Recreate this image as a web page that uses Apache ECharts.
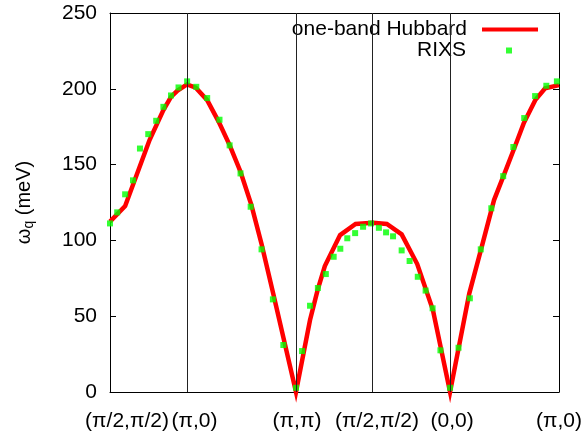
<!DOCTYPE html>
<html>
<head>
<meta charset="utf-8">
<script src="https://cdn.jsdelivr.net/npm/echarts@6/dist/echarts.min.js"></script>
<style>
  html, body { margin: 0; padding: 0; background: #fff; }
  #main { width: 585px; height: 440px; }
</style>
</head>
<body>
<div id="main"></div>
<script>
// path coordinate along the BZ cut, in units of pi
var qTicks = [0, 0.7071, 1.7071, 2.4142, 3.1213, 4.1213];
var qLabels = ['(π/2,π/2)', '(π,0)', '(π,π)', '(π/2,π/2)', '(0,0)', '(π,0)'];
var yTicks = [0, 50, 100, 150, 200, 250];

// one-band Hubbard dispersion (meV)
var hubbardQ = [0, 0.139, 0.363, 0.490, 0.560, 0.620, 0.7071, 0.787, 0.892, 0.998,
  1.098, 1.198, 1.298, 1.391, 1.498, 1.7071, 1.836, 1.906, 1.972, 2.112,
  2.254, 2.4142, 2.541, 2.677, 2.820, 2.964, 3.1213, 3.298, 3.404, 3.525,
  3.615, 3.722, 3.797, 3.903, 3.994, 4.1213];
var hubbardE = [112.4, 122.7, 166.2, 186.0, 194.7, 198.8, 202.9, 200.7, 192.5, 178.2,
  162.9, 145.3, 123.3, 97.6, 65.0, 0, 47.5, 67.3, 83.1, 103.5,
  110.8, 111.6, 110.8, 104.0, 84.4, 54.1, 0, 65.1, 93.6, 126.6,
  143.1, 162.9, 177.2, 192.5, 200.3, 202.4];

// RIXS data (meV)
var rixsQ = [0, 0.066, 0.139, 0.211, 0.275, 0.351, 0.424, 0.490, 0.560, 0.629,
  0.708, 0.792, 0.892, 1.005, 1.098, 1.198, 1.291, 1.391, 1.495, 1.591,
  1.7071, 1.763, 1.836, 1.908, 1.981, 2.053, 2.114, 2.178, 2.250, 2.323,
  2.396, 2.468, 2.534, 2.598, 2.677, 2.750, 2.825, 2.897, 2.961, 3.033,
  3.1213, 3.199, 3.303, 3.403, 3.500, 3.609, 3.702, 3.802, 3.902, 4.005, 4.102];
var rixsE = [111.2, 118.5, 130.4, 139.6, 160.6, 170.1, 178.9, 188.1, 195.6, 200.9,
  204.9, 201.3, 193.9, 179.6, 162.7, 144.2, 122.2, 94.1, 61.1, 31.0,
  2.8, 27.0, 56.9, 68.6, 77.8, 89.2, 94.5, 101.4, 104.8, 109.0,
  111.2, 108.3, 105.3, 102.7, 93.4, 86.4, 76.0, 66.9, 55.2, 27.5,
  2.8, 29.2, 61.8, 94.1, 121.2, 142.4, 161.6, 180.7, 195.2, 202.0, 204.9];

var font = 'Liberation Sans, Arial, Helvetica, sans-serif';
// small horizontal nudges of the x labels, as in the original figure
var labelNudge = [34, 15, 2, 8, 4, 0];

function pairs(xs, ys) {
  return xs.map(function (x, i) { return [x, ys[i]]; });
}

var xRich = {};
qTicks.forEach(function (q, k) {
  xRich['n' + k] = { fontSize: 21, fontFamily: font, color: '#000', padding: [0, 0, 0, labelNudge[k]] };
});

var chart = echarts.init(document.getElementById('main'));
chart.setOption({
  animation: false,
  backgroundColor: '#fff',
  textStyle: { fontFamily: font },
  grid: { left: 110, right: 21, top: 13, bottom: 48 },
  legend: [
    {
      data: ['one-band Hubbard'],
      right: 47, top: 19, padding: 0,
      align: 'right', icon: 'rect', itemWidth: 56, itemHeight: 4,
      selectedMode: false,
      formatter: function (n) { return '{t|' + n + '}{g|}'; },
      textStyle: { fontSize: 21, color: '#000', fontFamily: font,
        rich: { t: { fontSize: 21, fontFamily: font, color: '#000' }, g: { width: 10 } } }
    },
    {
      data: ['RIXS'],
      right: 73, top: 40, padding: 0,
      align: 'right', icon: 'rect', itemWidth: 6, itemHeight: 6,
      selectedMode: false,
      formatter: function (n) { return '{t|' + n + '}{g|}'; },
      textStyle: { fontSize: 21, color: '#000', fontFamily: font,
        rich: { t: { fontSize: 21, fontFamily: font, color: '#000' }, g: { width: 35 } } }
    }
  ],
  xAxis: [
    {
      type: 'value', min: qTicks[0], max: qTicks[qTicks.length - 1],
      axisLine: { onZero: false, lineStyle: { color: '#000', width: 1 } },
      axisTick: { show: false },
      splitLine: { show: false },
      axisLabel: {
        customValues: qTicks,
        margin: 19,
        color: '#000', fontSize: 21, fontFamily: font,
        formatter: function (v) {
          var i = 0;
          for (var k = 0; k < qTicks.length; k++) {
            if (Math.abs(qTicks[k] - v) < 1e-6) { i = k; }
          }
          return '{n' + i + '|' + qLabels[i] + '}';
        },
        rich: xRich
      }
    },
    {
      type: 'value', position: 'top', min: qTicks[0], max: qTicks[qTicks.length - 1],
      axisLine: { onZero: false, lineStyle: { color: '#000', width: 1 } },
      axisTick: { show: false }, axisLabel: { show: false }, splitLine: { show: false }
    }
  ],
  yAxis: [
    {
      type: 'value', min: 0, max: 250, interval: 50,
      name: '{w|ω}{s|q}{w| (meV)}',
      nameLocation: 'middle', nameGap: 74,
      nameTextStyle: {
        rich: {
          w: { fontSize: 20, fontFamily: font, color: '#000', lineHeight: 24 },
          s: { fontSize: 14, fontFamily: font, color: '#000', lineHeight: 14, verticalAlign: 'bottom' }
        }
      },
      axisLine: { onZero: false, lineStyle: { color: '#000', width: 1 } },
      axisTick: { inside: true, length: 6, lineStyle: { color: '#000' } },
      splitLine: { show: false },
      axisLabel: {
        margin: 13, color: '#000', fontSize: 21, fontFamily: font,
        customValues: yTicks
      }
    },
    {
      type: 'value', position: 'right', min: 0, max: 250, interval: 50,
      axisLine: { onZero: false, lineStyle: { color: '#000', width: 1 } },
      axisTick: { inside: true, length: 6, lineStyle: { color: '#000' } },
      axisLabel: { show: false }, splitLine: { show: false }
    }
  ],
  series: [
    {
      name: 'one-band Hubbard',
      type: 'line',
      data: pairs(hubbardQ, hubbardE),
      symbol: 'none',
      clip: false,
      color: '#ff0000',
      lineStyle: { color: '#ff0000', width: 4.5, join: 'miter', miterLimit: 10 },
      z: 2,
      markLine: {
        silent: true,
        symbol: 'none',
        label: { show: false },
        lineStyle: { color: '#222', width: 1, type: 'solid' },
        data: qTicks.slice(1, qTicks.length - 1).map(function (q) { return { xAxis: q }; })
      }
    },
    {
      name: 'RIXS',
      type: 'scatter',
      data: pairs(rixsQ, rixsE),
      symbol: 'rect',
      symbolSize: 6,
      color: '#00ff00',
      itemStyle: { color: '#00ff00' },
      z: 3
    }
  ]
});
</script>
</body>
</html>
